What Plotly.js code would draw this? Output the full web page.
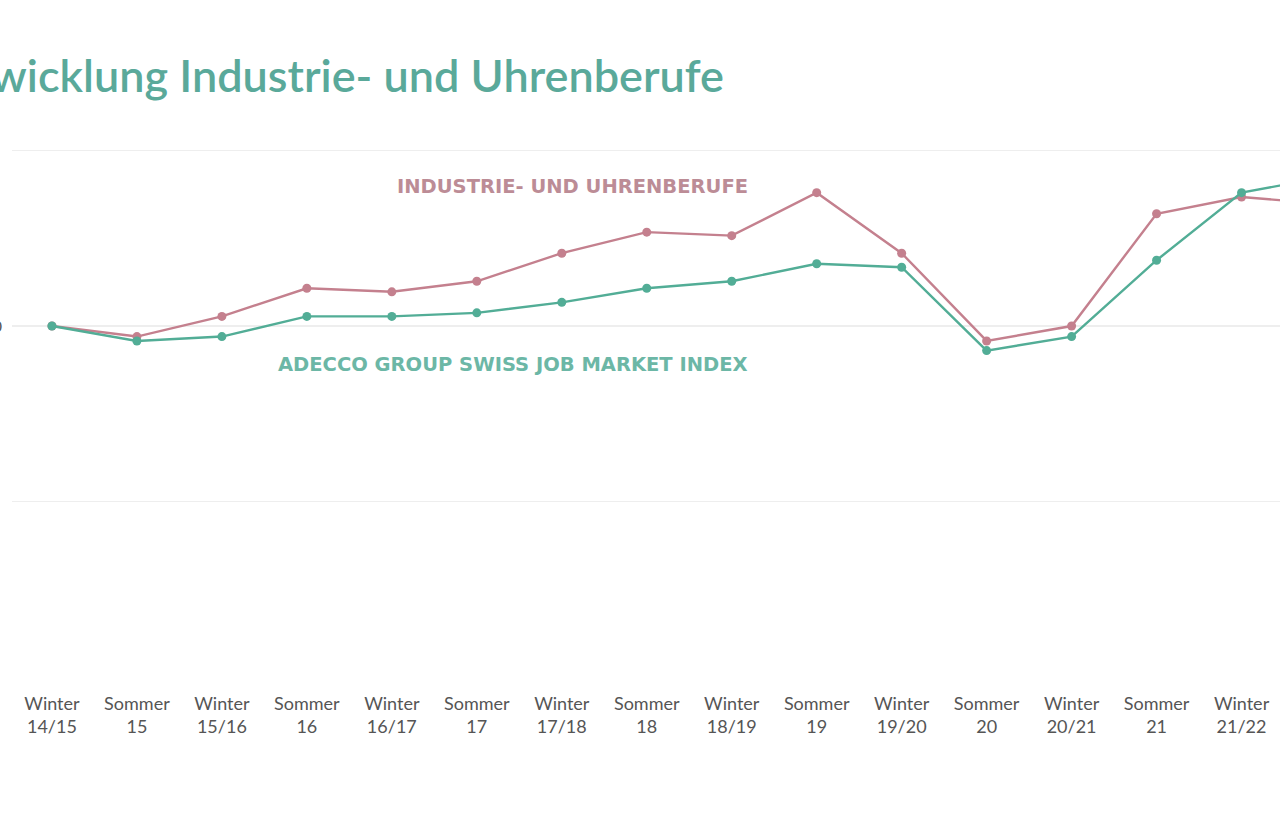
<!DOCTYPE html>
<html>
<head>
<meta charset="utf-8">
<script src="https://cdn.plot.ly/plotly-3.0.1.min.js"></script>
<style>
  html, body { margin: 0; padding: 0; background: #ffffff; overflow: hidden; width: 1280px; height: 837px; }
  #chart { position: absolute; left: -100px; top: 0; width: 1480px; height: 837px; }
</style>
</head>
<body>
<div id="chart"></div>
<script>
const seasons = ["Winter","Sommer","Winter","Sommer","Winter","Sommer","Winter","Sommer","Winter","Sommer","Winter","Sommer","Winter","Sommer","Winter","Sommer"];
const periods = ["14/15","15","15/16","16","16/17","17","17/18","18","18/19","19","19/20","20","20/21","21","21/22","22"];
const industrie = [100, 98.8, 101.1, 104.3, 103.9, 105.1, 108.3, 110.7, 110.3, 115.2, 108.3, 98.3, 100, 112.8, 114.7, 113.9];
const adecco    = [100, 98.3, 98.8, 101.1, 101.1, 101.5, 102.7, 104.3, 105.1, 107.1, 106.7, 97.2, 98.8, 107.5, 115.2, 117.0];
const yTicks = [60, 80, 100, 120];
const yTickText = ["", "", "100", ""];

const categories = seasons.map((s, i) => s + "<br>" + periods[i]);

const mauve = "#c4808e";
const teal = "#52ad96";

const traces = [
  { x: categories, y: industrie, type: "scatter", mode: "lines+markers", name: "Industrie- und Uhrenberufe",
    line: { color: mauve, width: 2.4 }, marker: { color: mauve, size: 9 }, cliponaxis: false },
  { x: categories, y: adecco, type: "scatter", mode: "lines+markers", name: "Adecco Group Swiss Job Market Index",
    line: { color: teal, width: 2.4 }, marker: { color: teal, size: 9 }, cliponaxis: false }
];

const layout = {
  width: 1480, height: 837,
  margin: { l: 112, r: 11, t: 133, b: 160 },
  paper_bgcolor: "#ffffff", plot_bgcolor: "#ffffff",
  showlegend: false,
  title: { text: "Entwicklung Industrie- und Uhrenberufe", xref: "container", yref: "container",
           x: 824 / 1480, xanchor: "right", y: 1 - 76 / 837, yanchor: "middle",
           font: { family: "Lato", size: 45, color: "#5aa99a", weight: 600 } },
  xaxis: { type: "category", range: [-0.47, 15.5], showgrid: false, zeroline: false, showline: false,
           ticks: "", ticklabelstandoff: 14, tickfont: { family: "Lato", size: 18, color: "#555555" } },
  yaxis: { range: [60, 122], tickvals: yTicks, ticktext: yTickText, showgrid: true, gridcolor: "#eeeeee", gridwidth: 1.5,
           zeroline: false, showline: false, ticks: "", ticklabelstandoff: 9,
           tickfont: { family: "Lato", size: 16, color: "#555555" } },
  annotations: [
    { x: 8.21, y: 115.95, xref: "x", yref: "y", xanchor: "right", yanchor: "middle", showarrow: false,
      text: "INDUSTRIE- UND UHRENBERUFE", font: { family: "DejaVu Sans", size: 19.5, color: "#bc8c96", weight: 700 } },
    { x: 8.21, y: 95.67, xref: "x", yref: "y", xanchor: "right", yanchor: "middle", showarrow: false,
      text: "ADECCO GROUP SWISS JOB MARKET INDEX", font: { family: "DejaVu Sans", size: 19.5, color: "#6cb7a6", weight: 700 } }
  ]
};

Plotly.newPlot("chart", traces, layout, { displayModeBar: false, staticPlot: true });
</script>
</body>
</html>
